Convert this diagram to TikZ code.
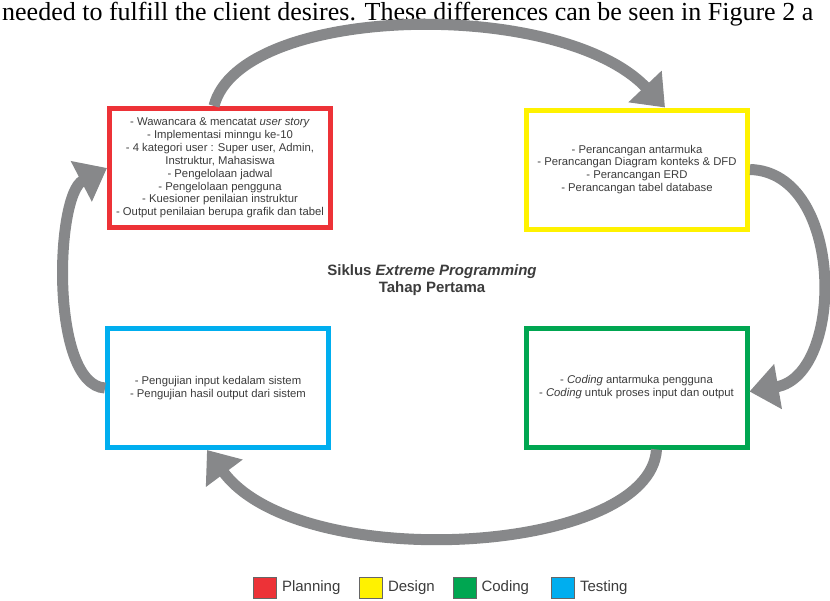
\documentclass[tikz,border=0pt]{standalone}
\usepackage{fontspec}
\setmainfont{Liberation Sans}
\newfontfamily\headserif{Liberation Serif}
\usepackage{tikz}
\usetikzlibrary{arrows.meta,positioning}
\definecolor{planred}{HTML}{ED3237}
\definecolor{designyellow}{HTML}{FFF200}
\definecolor{codegreen}{HTML}{00A651}
\definecolor{testblue}{HTML}{00AEEF}
\definecolor{arrowgray}{HTML}{87888A}
\definecolor{textgray}{HTML}{3C3C3C}

\begin{document}
\begin{tikzpicture}[x=1pt, y=-1pt,
    phase/.style={draw, line width=5pt, fill=white, minimum width=221pt, minimum height=119pt, align=center, text=textgray, font=\fontsize{11.3}{12.9}\selectfont},
    cyclearrow/.style={-{Triangle[length=29pt,width=44pt]}, line width=11pt, arrowgray},
    legendbox/.style={draw=gray!80!black, line width=0.6pt, minimum width=23pt, minimum height=21pt, inner sep=0pt},
    legendlab/.style={font=\fontsize{15}{18}\selectfont, text=textgray, inner sep=2pt}
  ]
    \useasboundingbox (0,0) rectangle (830,600);
    \fill[white] (0,0) rectangle (830,600);

    \node[anchor=base west, inner sep=0pt, font=\headserif\fontsize{26}{30}\selectfont] (head) at (2,20) {needed to fulfill the client desires. These differences can be seen in Figure 2 a};

    \node[phase, draw=planred] (plan) at (220,168) {- Wawancara \& mencatat \textit{user story}\\- Implementasi minngu ke-10\\- 4 kategori user : Super user, Admin,\\Instruktur, Mahasiswa\\- Pengelolaan jadwal\\- Pengelolaan pengguna\\- Kuesioner penilaian instruktur\\- Output penilaian berupa grafik dan tabel};
    \node[phase, draw=designyellow] (design) at (637,169.5) {- Perancangan antarmuka\\- Perancangan Diagram konteks \& DFD\\- Perancangan ERD\\- Perancangan tabel database};
    \node[phase, draw=codegreen] (code) at (636.5,387.5) {- \textit{Coding} antarmuka pengguna\\- \textit{Coding} untuk proses input dan output};
    \node[phase, draw=testblue] (test) at (218,388) {- Pengujian input kedalam sistem\\- Pengujian hasil output dari sistem};

    \node[align=center, text=textgray, font=\fontsize{15}{16.5}\selectfont\bfseries] (title) at (432,280) {Siklus \textit{Extreme Programming}\\Tahap Pertama};

    \draw[cyclearrow] ([xshift=-6pt]plan.north) .. controls (240,4) and (560,-3) .. ([xshift=28pt]design.north);
    \draw[cyclearrow] (design.east) .. controls (845,172) and (845,375) .. ([yshift=-4pt]code.east);
    \draw[cyclearrow] ([xshift=20pt]code.south) .. controls (650,555) and (300,575) .. ([xshift=-11pt]test.south);
    \draw[cyclearrow] (test.west) .. controls (50,385) and (55,195) .. (plan.west);

    \node[legendbox, fill=planred] (kplan) at (265,588) {};
    \node[legendlab, right=3pt of kplan] (lplan) {Planning};
    \node[legendbox, fill=designyellow] (kdesign) at (371,588) {};
    \node[legendlab, right=3pt of kdesign] (ldesign) {Design};
    \node[legendbox, fill=codegreen] (kcode) at (464.5,588) {};
    \node[legendlab, right=3pt of kcode] (lcode) {Coding};
    \node[legendbox, fill=testblue] (ktest) at (563,588) {};
    \node[legendlab, right=3pt of ktest] (ltest) {Testing};
\end{tikzpicture}
\end{document}
